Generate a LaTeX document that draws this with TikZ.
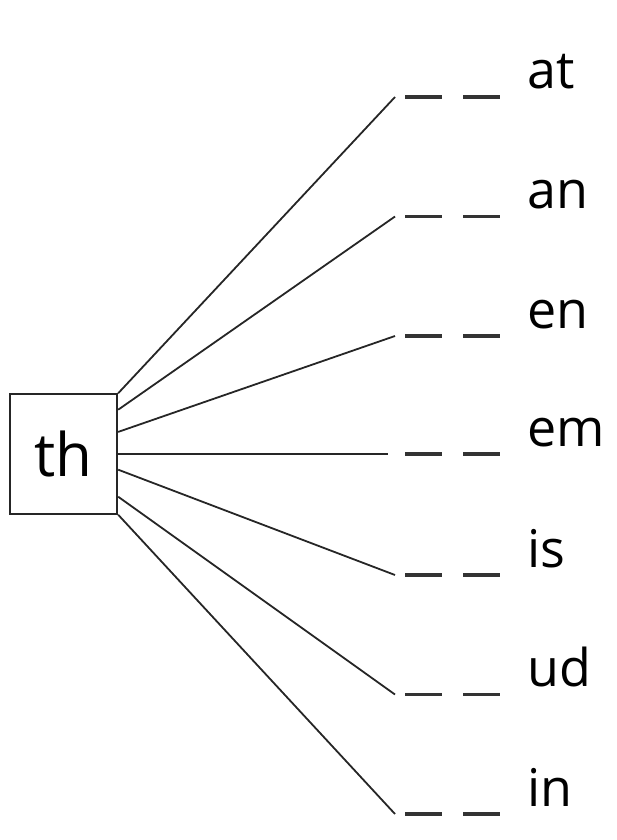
\documentclass[tikz,border=0pt]{standalone}
\usepackage{fontspec}
\setmainfont{Open Sans}
\usepackage{tikz}
\usetikzlibrary{positioning,calc}
\tikzstyle{onset} = [rectangle, draw=black!85, line width=1.2pt, minimum width=53.5pt, minimum height=60pt, inner sep=0pt, font=\fontsize{30}{34}\selectfont]
\tikzstyle{word} = [anchor=base west, inner sep=0pt, font=\fontsize{26}{30}\selectfont]
\tikzstyle{spoke} = [line width=0.9pt, draw=black!85]
\tikzstyle{blank} = [line width=1.6pt, draw=black!80, dash pattern=on 18.5pt off 10.5pt]

\begin{document}
\begin{tikzpicture}[x=0.5pt, y=-0.5pt]
    \useasboundingbox (0,0) rectangle (616,840);
    \node[onset] (th) at (63.5,454) {th};
    % ending, row height, anchor angle on the box, end of spoke
    \foreach \w/\y/\a/\x in {at/97/48.3/395, an/216.5/39.4/395, en/336/22.4/395, em/454/0/388, is/575/-16.7/395, ud/694.5/-38.8/395, in/814/-48.3/395}{
        \coordinate (e-\w) at (\x,\y);
        \coordinate (b-\w) at (405,\y);
        \draw[spoke] (th.\a) -- (e-\w);
        \draw[blank] (b-\w) -- ++(96,0);
        \node[word] (w-\w) at (527,\y-8) {\w};
    }
\end{tikzpicture}
\end{document}
